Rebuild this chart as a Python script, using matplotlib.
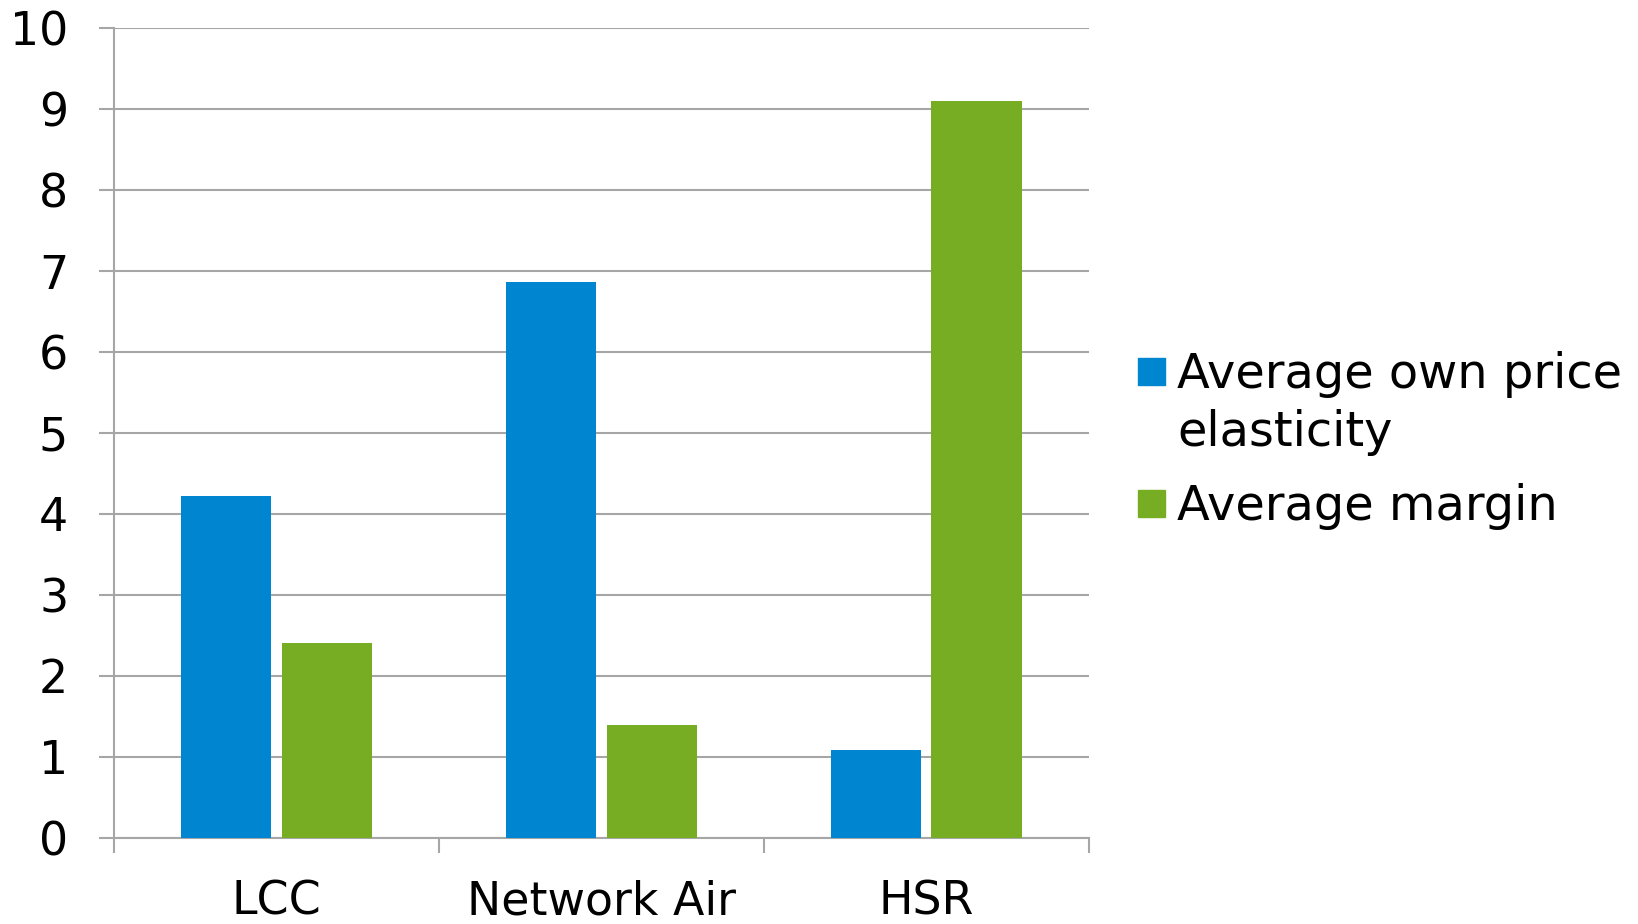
import numpy as np
import matplotlib.pyplot as plt
from matplotlib.patches import Rectangle

categories = ['LCC', 'Network Air', 'HSR']
elasticity = [4.22, 6.86, 1.08]
margin = [2.4, 1.39, 9.1]
series_names = [['Average own price', 'elasticity'], ['Average margin']]

blue = '#0085D0'
green = '#77AD22'
grey = '#A6A6A6'

plt.rcParams['font.family'] = ['DejaVu Sans']

W, H = 1638, 924
fig = plt.figure(figsize=(W / 100, H / 100), dpi=100)
ax = fig.add_axes([0.0696, 0.0936, 0.5952, 0.8758])

x = np.arange(len(categories))
w = 0.277
off = 0.154
ax.bar(x - off, elasticity, w, color=blue, zorder=3)
ax.bar(x + off, margin, w, color=green, zorder=3)

ax.set_xlim(-0.5, 2.5)
ax.set_ylim(0, 10)
ax.set_yticks(range(11))
ax.yaxis.grid(True, color=grey, linewidth=1.5, zorder=0)

ax.set_xticks(x)
ax.set_xticklabels(categories)
ax.set_xticks(np.arange(-0.5, 3.0, 1.0), minor=True)
ax.tick_params(axis='x', which='major', length=0, pad=30, labelsize=33)
ax.tick_params(axis='x', which='minor', length=11, width=1.5, color=grey)
ax.tick_params(axis='y', length=11, width=1.5, color=grey, pad=22, labelsize=33)

for side in ['top', 'right']:
    ax.spines[side].set_visible(False)
for side in ['left', 'bottom']:
    ax.spines[side].set_color(grey)
    ax.spines[side].set_linewidth(1.5)

# legend: key square sits on the first line of each entry
key = 27
key_x = 1138
text_x = 1177
line_step = 58
entry_tops = [358, 490]
for lines, color, top in zip(series_names, [blue, green], entry_tops):
    fig.patches.append(Rectangle((key_x / W, 1 - (top + key) / H), key / W, key / H,
                                 color=color, transform=fig.transFigure))
    for i, line in enumerate(lines):
        base = top + key + 3 + i * line_step
        fig.text(text_x / W, 1 - base / H, line, fontsize=34.5,
                 va='baseline', ha='left')

fig.savefig('out.png', dpi=100)
